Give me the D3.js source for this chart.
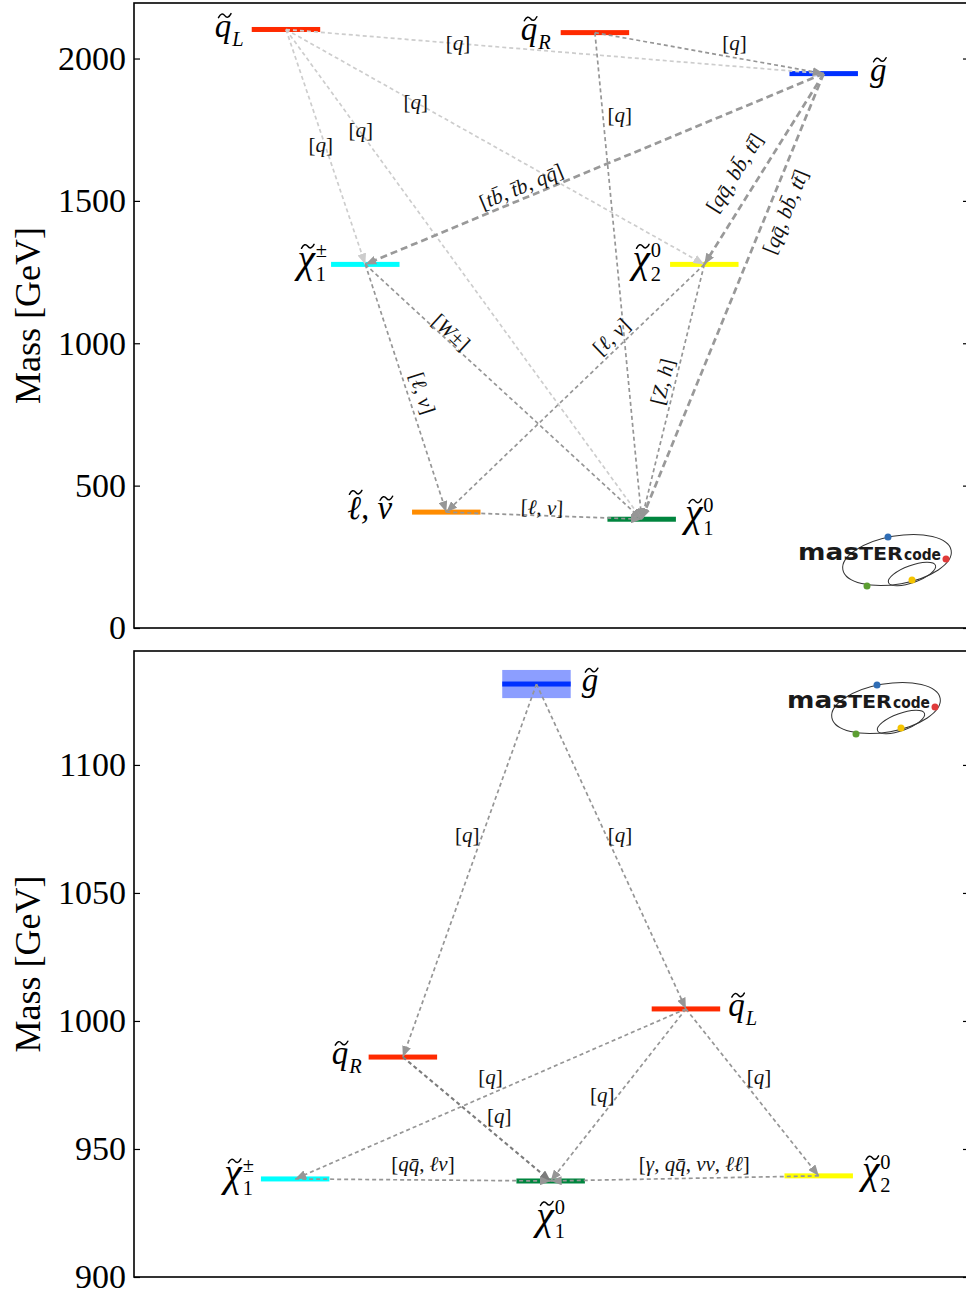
<!DOCTYPE html>
<html>
<head>
<meta charset="utf-8">
<script src="https://cdn.jsdelivr.net/npm/d3@7"></script>
<style>
body { margin: 0; background: #fff; }
svg { display: block; }
</style>
</head>
<body>
<svg width="966" height="1296"></svg>
<script>
var svg = d3.select("svg");
var serif = "'Liberation Serif', 'DejaVu Serif', serif";

// ---- top panel: full spectrum ----
var topKeys = ["qL", "qR", "gl", "c1", "n2", "sl", "n1"];
var topMass = [2102, 2091, 1947, 1277, 1277, 407, 382];
var topSlot = [1.82, 5.52, 8.26, 2.77, 6.83, 3.74, 6.08];
var topSide = ["left", "left", "right", "left", "left", "left", "right"];
var topGap  = [8, 10, 12, 4, 9, 20, 9];
var topTicks = [0, 500, 1000, 1500, 2000];

var topFrom = ["qL", "qL", "qL", "qL", "qR", "qR", "gl", "gl", "gl", "c1", "c1", "n2", "n2", "sl"];
var topTo   = ["gl", "n2", "n1", "c1", "gl", "n1", "c1", "n2", "n1", "sl", "n1", "sl", "n1", "n1"];
var topText = ["[q]", "[q]", "[q]", "[q]", "[q]", "[q]",
  "[tb\u0304, t\u0304b, qq\u0304]", "[qq\u0304, bb\u0304, tt\u0304]", "[qq\u0304, bb\u0304, tt\u0304]",
  "[\u2113, \u03bd]", "[W\u00b1]", "[\u2113, \u03bd]", "[Z, h]", "[\u2113, \u03bd]"];
var topTone = ["light", "light", "light", "light", "mid", "mid", "heavy", "heavy", "heavy", "mid", "mid", "mid", "mid", "mid"];
// label placement along each arrow
var topLabT   = [0.32, 0.31, 0.21, 0.49, 0.61, 0.17, 0.66, 0.52, 0.31, 0.52, 0.31, 0.36, 0.46, 0.49];
var topLabDx  = [0, 0, 0, -4, 0, 17, 0, -27, 18, 15, 0, 0, -13, 0];
var topLabDy  = [-1, 0, -2, 0, -15, 0, -13, 0, 0, 0, -11, -17, 0, -8];
var topLabRot = [false, false, false, false, false, false, true, true, true, true, true, true, true, true];

// ---- bottom panel: compressed spectrum ----
var botKeys = ["gl", "qL", "qR", "c1", "n1", "n2"];
var botMass = [1131.6, 1004.7, 985.9, 938.3, 937.5, 939.5];
var botErr  = [5.5, 0, 0, 0, 0, 0];
var botSlot = [4.82, 6.61, 3.22, 1.93, 4.99, 8.20];
var botSide = ["right", "right", "left", "left", "below", "right"];
var botGap  = [11, 8, 7, 7, 0, 9];
var botTicks = [900, 950, 1000, 1050, 1100];

var botFrom = ["gl", "gl", "qL", "qR", "qL", "qL", "c1", "n2"];
var botTo   = ["qR", "qL", "c1", "n1", "n1", "n2", "n1", "n1"];
var botText = ["[q]", "[q]", "[q]", "[q]", "[q]", "[q]",
  "[qq\u0304, \u2113\u03bd]", "[\u03b3, qq\u0304, \u03bd\u03bd, \u2113\u2113]"];
var botTone = ["mid", "mid", "mid", "dark", "mid", "mid", "mid", "mid"];
var botLabT   = [0.405, 0.465, 0.5, 0.55, 0.5, 0.407, 0.5, 0.464];
var botLabDx  = [-15, 14, 0, 15, -16, 19, 0, 0];
var botLabDy  = [0, 0, -17, -9, 0, 0, -16, -14];
var botLabRot = [false, false, false, false, false, false, false, false];

// symbol pieces: [glyph, tilde?, tall glyph?, glyph scale]
var names = {
  qL: {base: [["q", 1, 0, 1]], sub: "L", subIt: true},
  qR: {base: [["q", 1, 0, 1]], sub: "R", subIt: true},
  gl: {base: [["g", 1, 0, 1]]},
  c1: {base: [["\u03c7", 1, 0, 1.2]], sub: "1", sup: "\u00b1"},
  n1: {base: [["\u03c7", 1, 0, 1.2]], sub: "1", sup: "0"},
  n2: {base: [["\u03c7", 1, 0, 1.2]], sub: "2", sup: "0"},
  sl: {base: [["\u2113", 1, 1, 1], [", ", 0, 0, 1], ["\u03bd", 1, 0, 1]]}
};
var colors = {qL: "#ff2a00", qR: "#ff2a00", gl: "#0030ff", c1: "#00ffff", n2: "#ffff00", sl: "#ff8c00", n1: "#00853e"};
var tones = {
  light: {c: "#cdcdcd", w: 1.7, d: "4,3"},
  mid:   {c: "#969696", w: 1.7, d: "4,3"},
  dark:  {c: "#7c7c7c", w: 2.1, d: "4,3"},
  heavy: {c: "#999999", w: 2.7, d: "7,4"}
};

svg.append("rect").attr("width", 966).attr("height", 1296).attr("fill", "#fff");

var defs = svg.append("defs");
Object.keys(tones).forEach(function(k) {
  defs.append("marker")
      .attr("id", "arr-" + k)
      .attr("markerUnits", "userSpaceOnUse")
      .attr("markerWidth", 11).attr("markerHeight", 9)
      .attr("refX", 11).attr("refY", 4.5)
      .attr("orient", "auto")
    .append("path")
      .attr("d", "M0,0L11,4.5L0,9Z")
      .attr("fill", tones[k].c)
      .attr("stroke", "none");
});

var x = d3.scaleLinear().domain([0, 10]).range([134, 969]);
var barHalf = (x(0.82) - x(0)) / 2;

function decayLabel(g, str, size) {
  var t = g.append("text")
      .attr("font-family", serif)
      .attr("font-size", size)
      .attr("text-anchor", "middle")
      .attr("dominant-baseline", "central")
      .attr("fill", "#111");
  str.split(/([A-Za-z\u0300-\u036f\u03b1-\u03c9\u2113]+)/).forEach(function(part, i) {
    if (!part) return;
    t.append("tspan")
      .attr("font-style", i % 2 ? "italic" : "normal")
      .text(part);
  });
  return t;
}

function tilde(lg, cx, cy, size) {
  var w = size * 0.38, h = size * 0.06;
  lg.append("path")
    .attr("d", "M" + (cx - w / 2) + "," + (cy + h) + "Q" + (cx - w / 4) + "," + (cy - h * 2) +
      " " + cx + "," + cy + "T" + (cx + w / 2) + "," + (cy - h))
    .attr("fill", "none").attr("stroke", "#000").attr("stroke-width", size * 0.045)
    .attr("stroke-linecap", "round");
}

function particleLabel(g, key, px, py, side, gap, size) {
  var spec = names[key];
  var lg = g.append("g");
  var w = 0;
  spec.base.forEach(function(p) {
    var t = lg.append("text")
        .attr("x", w)
        .attr("font-family", serif).attr("font-style", "italic")
        .attr("font-size", size * p[3]).attr("xml:space", "preserve").text(p[0]);
    var pw = t.node().getComputedTextLength();
    if (p[1]) tilde(lg, w + pw / 2 + size * 0.05, p[2] ? -size * 0.82 : -size * 0.64 * p[3], size);
    w += pw;
  });
  var extra = 0;
  if (spec.sub) {
    var s = lg.append("text")
        .attr("x", w + 1).attr("y", size * 0.27)
        .attr("font-family", serif).attr("font-style", spec.subIt ? "italic" : "normal")
        .attr("font-size", size * 0.62).text(spec.sub);
    extra = Math.max(extra, s.node().getComputedTextLength() + 1);
  }
  if (spec.sup) {
    var u = lg.append("text")
        .attr("x", w + 1).attr("y", -size * 0.44)
        .attr("font-family", serif)
        .attr("font-size", size * 0.62).text(spec.sup);
    extra = Math.max(extra, u.node().getComputedTextLength() + 1);
  }
  var total = w + extra;
  var tx, ty = py + size * 0.22;
  if (side == "left") tx = px - barHalf - gap - total;
  else if (side == "right") tx = px + barHalf + gap;
  else { tx = px - total / 2; ty = py + size * 1.45; }
  lg.attr("transform", "translate(" + tx + "," + ty + ")");
}

function drawLogo(ox, oy) {
  var lg = svg.append("g").attr("transform", "translate(" + ox + "," + oy + ")");
  lg.append("ellipse").attr("cx", 99).attr("cy", 0).attr("rx", 55).attr("ry", 24)
    .attr("transform", "rotate(-10,99,0)")
    .attr("fill", "none").attr("stroke", "#333").attr("stroke-width", 1);
  lg.append("ellipse").attr("cx", 114).attr("cy", 14).attr("rx", 25).attr("ry", 8.5)
    .attr("transform", "rotate(-20,114,14)")
    .attr("fill", "none").attr("stroke", "#333").attr("stroke-width", 1);
  var t = lg.append("text")
      .attr("font-family", "'DejaVu Sans', sans-serif").attr("font-weight", "bold")
      .attr("fill", "#1a1a1a");
  t.append("tspan").attr("font-size", 23).text("mas");
  t.append("tspan").attr("font-size", 18).text("TER");
  t.attr("textLength", 105).attr("lengthAdjust", "spacingAndGlyphs");
  lg.append("text").attr("x", 106).attr("y", 0)
    .attr("font-family", "'DejaVu Sans', sans-serif").attr("font-weight", "bold")
    .attr("font-size", 15).attr("fill", "#1a1a1a")
    .attr("textLength", 37).attr("lengthAdjust", "spacingAndGlyphs")
    .text("code");
  var dots = [[90, -23, "#2f6db5"], [148, -1, "#e03a3a"], [69, 26, "#5c9e32"], [114, 20, "#f5c400"]];
  dots.forEach(function(d) {
    lg.append("circle").attr("cx", d[0]).attr("cy", d[1]).attr("r", 3.5).attr("fill", d[2]);
  });
}

function panel(o) {
  var g = svg.append("g");
  var y = d3.scaleLinear().domain(o.domain).range([o.bottom, o.top]);

  g.append("g")
      .attr("transform", "translate(134,0)")
      .call(d3.axisLeft(y).tickValues(o.ticks).tickSize(-6).tickPadding(8).tickFormat(d3.format("d")))
      .call(function(a) { a.select(".domain").remove(); })
      .call(function(a) { a.selectAll("line").attr("stroke", "#000").attr("stroke-width", 1.2); })
      .call(function(a) {
        a.selectAll("text").attr("font-family", serif).attr("font-size", 34).attr("fill", "#000");
      });
  g.append("g")
      .attr("transform", "translate(969,0)")
      .call(d3.axisRight(y).tickValues(o.ticks).tickSize(-6).tickFormat(""))
      .call(function(a) { a.select(".domain").remove(); })
      .call(function(a) { a.selectAll("line").attr("stroke", "#000").attr("stroke-width", 1.2); });

  g.append("rect")
      .attr("x", 134).attr("y", o.top)
      .attr("width", 835).attr("height", o.bottom - o.top)
      .attr("fill", "none").attr("stroke", "#000").attr("stroke-width", 1.6);

  g.append("text")
      .attr("transform", "translate(28," + (o.top + o.bottom) / 2 + ") rotate(-90)")
      .attr("text-anchor", "middle").attr("dominant-baseline", "central")
      .attr("font-family", serif).attr("font-size", 36)
      .text("Mass [GeV]");

  var pos = {};
  o.keys.forEach(function(k, i) { pos[k] = {x: x(o.slot[i]), y: y(o.mass[i])}; });

  // mass uncertainty bands
  if (o.err) {
    o.keys.forEach(function(k, i) {
      if (!o.err[i]) return;
      g.append("rect")
          .attr("x", pos[k].x - barHalf).attr("width", barHalf * 2)
          .attr("y", y(o.mass[i] + o.err[i]))
          .attr("height", y(o.mass[i] - o.err[i]) - y(o.mass[i] + o.err[i]))
          .attr("fill", "#8c9eff");
    });
  }

  g.selectAll("rect.level")
    .data(o.keys)
    .enter().append("rect")
      .attr("class", "level")
      .attr("x", function(k) { return pos[k].x - barHalf; })
      .attr("y", function(k) { return pos[k].y - 2.5; })
      .attr("width", barHalf * 2)
      .attr("height", 5)
      .attr("fill", function(k) { return colors[k]; });

  o.from.forEach(function(f, i) {
    var a = pos[f], b = pos[o.to[i]], tn = tones[o.tone[i]];
    g.append("line")
        .attr("x1", a.x).attr("y1", a.y).attr("x2", b.x).attr("y2", b.y)
        .attr("stroke", tn.c).attr("stroke-width", tn.w)
        .attr("stroke-dasharray", tn.d)
        .attr("marker-end", "url(#arr-" + o.tone[i] + ")");
  });

  o.from.forEach(function(f, i) {
    var a = pos[f], b = pos[o.to[i]];
    var lx = a.x + o.labT[i] * (b.x - a.x) + o.labDx[i];
    var ly = a.y + o.labT[i] * (b.y - a.y) + o.labDy[i];
    var ang = 0;
    if (o.labRot[i]) {
      ang = Math.atan2(b.y - a.y, b.x - a.x) * 180 / Math.PI;
      if (ang > 90) ang -= 180;
      if (ang < -90) ang += 180;
    }
    var t = decayLabel(g, o.text[i], 21);
    t.attr("transform", "translate(" + lx + "," + ly + ") rotate(" + ang + ")");
  });

  o.keys.forEach(function(k, i) {
    particleLabel(g, k, pos[k].x, pos[k].y, o.side[i], o.gap[i], 33);
  });
}

panel({
  top: 3, bottom: 628, domain: [0, 2195], ticks: topTicks,
  keys: topKeys, mass: topMass, slot: topSlot, side: topSide, gap: topGap,
  from: topFrom, to: topTo, text: topText, tone: topTone,
  labT: topLabT, labDx: topLabDx, labDy: topLabDy, labRot: topLabRot
});

panel({
  top: 651, bottom: 1277, domain: [900, 1144.5], ticks: botTicks,
  keys: botKeys, mass: botMass, err: botErr, slot: botSlot, side: botSide, gap: botGap,
  from: botFrom, to: botTo, text: botText, tone: botTone,
  labT: botLabT, labDx: botLabDx, labDy: botLabDy, labRot: botLabRot
});

drawLogo(798, 560);
drawLogo(787, 708);
</script>
</body>
</html>
